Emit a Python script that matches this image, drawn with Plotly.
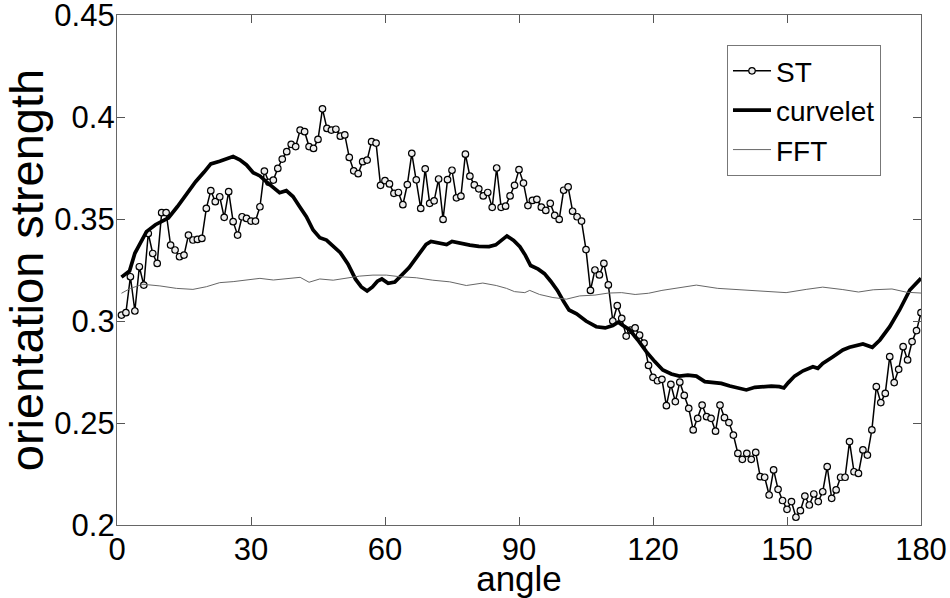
import plotly.graph_objects as go

# ---------------- data ----------------
st_angle = list(range(1, 181))
st_value = [
    0.3029, 0.3041, 0.3217, 0.3049, 0.3266, 0.3176, 0.3429, 0.3331, 0.3282, 0.3531,
    0.3531, 0.3372, 0.3348, 0.3315, 0.3323, 0.3421, 0.3397, 0.3400, 0.3405, 0.3552,
    0.3639, 0.3585, 0.3609, 0.3508, 0.3634, 0.3487, 0.3421, 0.3511, 0.3503, 0.3490,
    0.3490, 0.3560, 0.3735, 0.3680, 0.3691, 0.3748, 0.3794, 0.3830, 0.3866, 0.3855,
    0.3936, 0.3928, 0.3855, 0.3846, 0.3890, 0.4040, 0.3944, 0.3936, 0.3940, 0.3906,
    0.3912, 0.3802, 0.3736, 0.3722, 0.3781, 0.3789, 0.3879, 0.3872, 0.3665, 0.3688,
    0.3672, 0.3626, 0.3630, 0.3570, 0.3669, 0.3822, 0.3692, 0.3552, 0.3746, 0.3577,
    0.3589, 0.3696, 0.3498, 0.3693, 0.3739, 0.3604, 0.3612, 0.3818, 0.3710, 0.3667,
    0.3648, 0.3613, 0.3630, 0.3557, 0.3750, 0.3557, 0.3563, 0.3613, 0.3665, 0.3742,
    0.3676, 0.3566, 0.3591, 0.3596, 0.3558, 0.3542, 0.3577, 0.3518, 0.3498, 0.3641,
    0.3657, 0.3538, 0.3511, 0.3490, 0.3350, 0.3150, 0.3250, 0.3226, 0.3282, 0.3177,
    0.3000, 0.3075, 0.3013, 0.2926, 0.2955, 0.2966, 0.2931, 0.2892, 0.2782, 0.2724,
    0.2707, 0.2714, 0.2585, 0.2689, 0.2605, 0.2700, 0.2635, 0.2572, 0.2466, 0.2523,
    0.2588, 0.2531, 0.2523, 0.2460, 0.2588, 0.2526, 0.2502, 0.2441, 0.2351, 0.2322,
    0.2351, 0.2322, 0.2356, 0.2237, 0.2234, 0.2147, 0.2270, 0.2175, 0.2120, 0.2077,
    0.2115, 0.2038, 0.2070, 0.2142, 0.2098, 0.2152, 0.2115, 0.2163, 0.2286, 0.2131,
    0.2172, 0.2234, 0.2234, 0.2409, 0.2261, 0.2253, 0.2368, 0.2343, 0.2466, 0.2678,
    0.2600, 0.2645, 0.2825, 0.2698, 0.2763, 0.2874, 0.2809, 0.2899, 0.2953, 0.3041,
]

curvelet_angle = [
    1, 2.8, 4, 5.5, 6.6, 8.6, 10, 11.5, 13.5, 15.5, 17.6, 19.5, 21, 23, 24.5, 26,
    27.5, 29, 30.5, 32, 33.4, 34.9, 36.4, 37.9, 39.4, 40.9, 42.4, 43.9, 45.4, 46.9,
    48.4, 50, 51.7, 53.4, 54.7, 56, 57.2, 58.3, 59.3, 60.7, 62.2, 63.8, 65.4, 66.9,
    68.2, 69.2, 70.3, 72, 73.8, 75, 77, 79, 81, 83.3, 84.8, 86.2, 87.3, 88.8, 90.2,
    91.4, 92.6, 94.3, 95.7, 97.1, 98.6, 100, 101.2, 102.9, 105, 107.3, 109.3, 111,
    112.2, 113.5, 114.8, 116.6, 118.5, 120.4, 122.2, 124.1, 125.9, 127.8, 129.7,
    131.6, 133.4, 135.3, 137.2, 139, 140.9, 142.8, 144.6, 146.5, 148.3, 149.3, 150.3,
    151.7, 153.6, 155.8, 156.9, 158, 160.3, 162.5, 164, 165.5, 167, 169.1, 170.8,
    173, 175.2, 177.5, 179, 180,
]
curvelet_value = [
    0.3215, 0.3245, 0.3332, 0.3397, 0.3438, 0.3472, 0.3490, 0.3505, 0.3560, 0.3620,
    0.3683, 0.3730, 0.3770, 0.3783, 0.3793, 0.3806, 0.3790, 0.3765, 0.3727, 0.3711,
    0.3683, 0.3658, 0.3629, 0.3639, 0.3610, 0.3560, 0.3511, 0.3446, 0.3408, 0.3397,
    0.3364, 0.3335, 0.3280, 0.3205, 0.3167, 0.3147, 0.3167, 0.3195, 0.3206, 0.3185,
    0.3191, 0.3225, 0.3262, 0.3307, 0.3345, 0.3375, 0.3390, 0.3382, 0.3375, 0.3390,
    0.3380, 0.3372, 0.3366, 0.3365, 0.3373, 0.3400, 0.3417, 0.3395, 0.3364, 0.3323,
    0.3272, 0.3254, 0.3232, 0.3195, 0.3150, 0.3095, 0.3054, 0.3035, 0.3000, 0.2972,
    0.2966, 0.2978, 0.2994, 0.2975, 0.2956, 0.2907, 0.2850, 0.2801, 0.2760, 0.2740,
    0.2730, 0.2735, 0.2730, 0.2703, 0.2698, 0.2694, 0.2681, 0.2673, 0.2662, 0.2675,
    0.2678, 0.2681, 0.2678, 0.2672, 0.2698, 0.2730, 0.2756, 0.2776, 0.2768, 0.2792,
    0.2825, 0.2858, 0.2871, 0.2877, 0.2887, 0.2871, 0.2907, 0.2972, 0.3054, 0.3152,
    0.3185, 0.3209,
]

fft_angle = [
    1, 3, 5.8, 9.6, 13.3, 17, 20, 23, 26, 29, 32, 35, 38, 41, 43, 45.4, 48.4, 51.4,
    54.3, 57.3, 60.3, 63.3, 67, 70.7, 74.5, 78.2, 81.9, 84.9, 87.2, 89, 91.3, 92.4,
    94.6, 97.6, 100.6, 103.6, 107, 110, 113, 116, 119, 122, 125.5, 129.7, 134.5,
    140.2, 145.4, 149.8, 154.3, 158, 162.5, 166, 169.3, 173.5, 176.8, 180,
]
fft_value = [
    0.3136, 0.3160, 0.3180, 0.3172, 0.3160, 0.3155, 0.3168, 0.3188, 0.3193, 0.3201,
    0.3209, 0.3201, 0.3209, 0.3214, 0.3190, 0.3206, 0.3200, 0.3209, 0.3220, 0.3225,
    0.3225, 0.3217, 0.3212, 0.3200, 0.3192, 0.3174, 0.3186, 0.3174, 0.3160, 0.3144,
    0.3139, 0.3150, 0.3130, 0.3115, 0.3107, 0.3123, 0.3127, 0.3137, 0.3139, 0.3130,
    0.3136, 0.3150, 0.3162, 0.3176, 0.3160, 0.3152, 0.3144, 0.3139, 0.3155, 0.3166,
    0.3154, 0.3142, 0.3153, 0.3157, 0.3141, 0.3137,
]

x_ticks = [0, 30, 60, 90, 120, 150, 180]
y_ticks = [0.2, 0.25, 0.3, 0.35, 0.4, 0.45]
y_tick_text = ["0.2", "0.25", "0.3", "0.35", "0.4", "0.45"]

FONT = "Liberation Sans, Arial, sans-serif"

fig = go.Figure()
fig.add_trace(go.Scatter(
    x=st_angle, y=st_value, name="ST", mode="lines+markers",
    line=dict(color="black", width=1.5),
    marker=dict(symbol="circle", size=6.5, color="#ececec",
                line=dict(color="black", width=1.2)),
))
fig.add_trace(go.Scatter(
    x=curvelet_angle, y=curvelet_value, name="curvelet", mode="lines",
    line=dict(color="black", width=3.7),
))
fig.add_trace(go.Scatter(
    x=fft_angle, y=fft_value, name="FFT", mode="lines",
    line=dict(color="#666666", width=1),
))

axis_common = dict(
    showgrid=False, zeroline=False, showline=True, linecolor="#666666",
    linewidth=1.2, mirror="ticks", ticks="inside", ticklen=8,
    tickcolor="#555555", tickfont=dict(family=FONT, size=31, color="black"),
    automargin=False, ticklabeloverflow="allow",
)

fig.update_layout(
    width=950, height=598,
    margin=dict(l=117, r=29, t=15, b=73),
    paper_bgcolor="white", plot_bgcolor="white",
    font=dict(family=FONT, color="black"),
    xaxis=dict(range=[0, 180], tickvals=x_ticks, ticklabelstandoff=-3,
               title=dict(text="angle", font=dict(family=FONT, size=35), standoff=0),
               **axis_common),
    yaxis=dict(range=[0.2, 0.450001], tickvals=y_ticks, ticktext=y_tick_text,
               ticklabelstandoff=-5,
               title=dict(text="orientation strength", font=dict(family=FONT, size=47),
                          standoff=10),
               **axis_common),
    legend=dict(x=0.7587, y=0.941, xanchor="left", yanchor="top",
                bgcolor="white", bordercolor="#777777", borderwidth=1,
                itemwidth=38,
                font=dict(family=FONT, size=28, color="black")),
    showlegend=True,
)

# remove the browser's default 8px body margin so the figure fills the window
fig.write_html("out.html", config={"displayModeBar": False},
               post_script="document.body.style.margin='0px';")
